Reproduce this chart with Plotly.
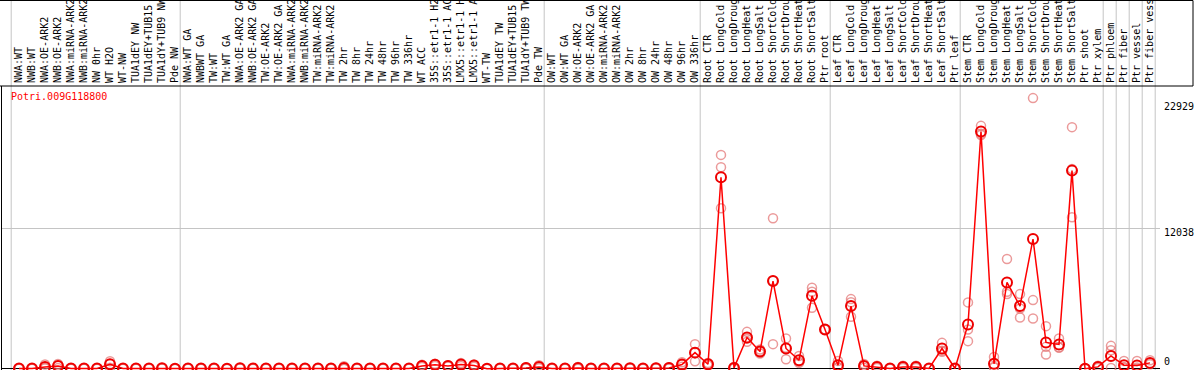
import plotly.graph_objects as go

gene = "Potri.009G118800"

samples = [
    "NWA:WT", "NWB:WT", "NWA:OE-ARK2", "NWB:OE-ARK2", "NWA:miRNA-ARK2", "NWB:miRNA-ARK2",
    "NW 0hr", "WT H2O", "WT-NW", "TUA1dEY NW", "TUA1dEY+TUB15 NW", "TUA1dY+TUB9 NW", "Pde NW",
    "NWA:WT GA", "NWBWT GA", "TW:WT", "TW:WT GA", "NWA:OE-ARK2 GA", "NWB:OE-ARK2 GA",
    "TW:OE-ARK2", "TW:OE-ARK2 GA", "NWA:miRNA-ARK2", "NWB:miRNA-ARK2", "TW:miRNA-ARK2",
    "TW:miRNA-ARK2", "TW 2hr", "TW 8hr", "TW 24hr", "TW 48hr", "TW 96hr", "TW 336hr",
    "WT ACC", "35S::etr1-1 H2O", "35S::etr1-1 ACC", "LMX5::etr1-1 H2O", "LMX5::etr1-1 ACC",
    "WT-TW", "TUA1dEY TW", "TUA1dEY+TUB15 TW", "TUA1dY+TUB9 TW", "Pde TW",
    "OW:WT", "OW:WT GA", "OW:OE-ARK2", "OW:OE-ARK2 GA", "OW:miRNA-ARK2", "OW:miRNA-ARK2",
    "OW 2hr", "OW 8hr", "OW 24hr", "OW 48hr", "OW 96hr", "OW 336hr",
    "Root CTR", "Root LongCold", "Root LongDrought", "Root LongHeat", "Root LongSalt",
    "Root ShortCold", "Root ShortDrought", "Root ShortHeat", "Root ShortSalt", "Ptr root",
    "Leaf CTR", "Leaf LongCold", "Leaf LongDrought", "Leaf LongHeat", "Leaf LongSalt",
    "Leaf ShortCold", "Leaf ShortDrought", "Leaf ShortHeat", "Leaf ShortSalt", "Ptr leaf",
    "Stem CTR", "Stem LongCold", "Stem LongDrought", "Stem LongHeat", "Stem LongSalt",
    "Stem ShortCold", "Stem ShortDrought", "Stem ShortHeat", "Stem ShortSalt",
    "Ptr shoot", "Ptr xylem", "Ptr phloem", "Ptr fiber", "Ptr vessel", "Ptr fiber vessel",
]

mean_values = [
    20, 20, 150, 240, 20, 20, 20, 380, 20, 20, 20, 40, 0,
    20, 20, 20, 0, 40, 20, 20, 20, 20, 20, 20, 20, 60, 20, 20, 20, 20, 20,
    240, 330, 240, 360, 265, 0, 20, 20, 60, 155,
    20, 20, 60, 20, 20, 20, 40, 20, 40, 60, 360, 1380,
    387, 16440, 70, 2680, 1478, 7523, 1737, 731, 6260, 3370,
    300, 5374, 240, 155, 20, 155, 155, 20, 1737, 20,
    3800, 20361, 420, 7411, 5374, 11135, 2253, 2081, 17008,
    0, 155, 1100, 300, 275, 500,
]

rep1 = [
    40, 40, 360, 400, 40, 40, 40, 650, 40, 40, 40, 60, 0,
    40, 40, 40, 0, 60, 40, 40, 40, 40, 40, 40, 40, 215, 40, 40, 40, 40, 40,
    330, 420, 300, 480, 360, 0, 40, 40, 120, 300,
    40, 40, 150, 40, 40, 40, 60, 40, 80, 120, 560, 2107,
    500, 18357, 150, 3164, 1650, 12915, 2597, 1100, 6948, 3370,
    670, 5976, 400, 250, 40, 250, 250, 40, 2218, 40,
    5692, 20851, 1000, 9415, 6406, 23233, 3654, 2597, 20739,
    0, 250, 1960, 670, 670, 731,
]

rep2 = [
    20, 20, 60, 250, 20, 20, 20, 400, 20, 20, 20, 40, 0,
    20, 20, 20, 0, 40, 20, 20, 20, 20, 20, 20, 20, 0, 20, 20, 20, 20, 20,
    240, 330, 240, 360, 265, 0, 20, 20, 40, 120,
    20, 20, 30, 20, 20, 20, 40, 20, 30, 40, 360, 1400,
    387, 17300, 50, 2580, 1478, 7547, 1800, 600, 6604, 3370,
    150, 5700, 240, 155, 20, 155, 155, 20, 1550, 20,
    3370, 20163, 160, 6604, 5176, 5890, 1874, 1823, 17154,
    0, 155, 1590, 150, 100, 500,
]

rep3 = [
    0, 0, 30, 70, 0, 0, 0, 90, 0, 0, 0, 20, 0,
    0, 0, 0, 0, 20, 0, 0, 0, 0, 0, 0, 0, 0, 0, 0, 0, 0, 0,
    150, 240, 180, 240, 170, 0, 0, 0, 20, 45,
    0, 0, 0, 0, 0, 0, 20, 0, 10, 20, 160, 630,
    270, 13775, 10, 2304, 1306, 2107, 817, 500, 5228, 3370,
    80, 4454, 80, 60, 0, 60, 60, 0, 1447, 0,
    2365, 20070, 100, 6406, 4402, 4316, 1221, 1823, 13001,
    0, 60, 70, 80, 0, 387,
]

y_tick_values = [22929, 12038, 0]
y_tick_shift = [-5, -4, 7]
group_separators = [-0.6, 12.4, 40.4, 52.4, 62.4, 72.4, 83.4, 84.4, 85.4, 86.4, 87.4]

W, H = 1194, 370
ML, MR, MT, MB = 2, 34, 86, 0
plot_w = W - ML - MR
plot_h = H - MT - MB
step = 13.0
x0 = -(19 - ML) / step
x1 = x0 + plot_w / step
k = 140.2 / 12038.0
y_top = (368.7 - MT) / k
y_bot = y_top - plot_h / k

mono = "DejaVu Sans Mono"
xs = list(range(len(samples)))

fig = go.Figure()
for reps in (rep1, rep2, rep3):
    fig.add_trace(go.Scatter(
        x=xs, y=reps, mode="markers",
        marker=dict(symbol="circle-open", size=9, color="rgba(228,120,120,0.75)",
                    line=dict(width=1.5)),
        showlegend=False, hoverinfo="skip",
    ))
fig.add_trace(go.Scatter(
    x=xs, y=mean_values, mode="lines+markers",
    line=dict(color="#ff0000", width=1.5),
    marker=dict(symbol="circle-open", size=10, color="#ee0000", line=dict(width=2)),
    showlegend=False,
))

shapes = []
for g in group_separators:
    shapes.append(dict(type="line", xref="x", yref="paper", x0=g, x1=g,
                       y0=0, y1=1 + MT / plot_h, line=dict(color="#c4c4c4", width=1),
                       layer="below"))
# header box
shapes.append(dict(type="rect", xref="paper", yref="paper",
                   x0=(-1 - ML) / plot_w, x1=(1193 - ML) / plot_w,
                   y0=1, y1=1 + (MT - 0.5) / plot_h,
                   line=dict(color="black", width=1), fillcolor="rgba(0,0,0,0)"))
# left border of plot
shapes.append(dict(type="line", xref="paper", yref="paper",
                   x0=(1.5 - ML) / plot_w, x1=(1.5 - ML) / plot_w, y0=0, y1=1,
                   line=dict(color="black", width=1)))

annotations = [dict(text=gene, xref="paper", yref="paper", x=(9 - ML) / plot_w,
                    y=1 - (97 - MT) / plot_h, xanchor="left", yanchor="middle",
                    showarrow=False, font=dict(family=mono, size=10, color="#ff0000"))]
for v, s in zip(y_tick_values, y_tick_shift):
    annotations.append(dict(text=str(v), xref="paper", yref="y", x=1, y=v,
                            xanchor="left", yanchor="middle", xshift=2, yshift=s,
                            showarrow=False, font=dict(family=mono, size=10, color="black")))

fig.update_layout(
    width=W, height=H,
    margin=dict(l=ML, r=MR, t=MT, b=MB, pad=0),
    paper_bgcolor="white", plot_bgcolor="white",
    shapes=shapes, annotations=annotations,
    xaxis=dict(range=[x0, x1], side="top", tickmode="array", tickvals=xs,
               ticktext=samples, tickangle=-90, ticks="", showgrid=False,
               zeroline=False, showline=False, automargin=False,
               ticklabelstandoff=2,
               tickfont=dict(family=mono, size=10, color="black")),
    yaxis=dict(range=[y_bot, y_top], tickmode="array", tickvals=[12038],
               showticklabels=False, ticks="", showgrid=True, gridcolor="#c4c4c4",
               gridwidth=1, zeroline=True, zerolinecolor="black", zerolinewidth=1,
               showline=False, automargin=False),
)

fig.write_html(
    "out.html",
    config={"displayModeBar": False},
    post_script="document.body.style.margin='0';document.body.style.overflow='hidden';",
)
